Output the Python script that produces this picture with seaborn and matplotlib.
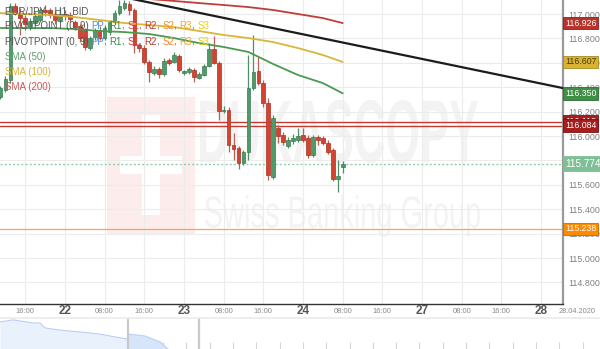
import numpy as np
import pandas as pd
import matplotlib
matplotlib.use("Agg")
import matplotlib.pyplot as plt
import seaborn as sns
from matplotlib.textpath import TextPath
from matplotlib.patches import PathPatch, Rectangle
from matplotlib.font_manager import FontProperties
from matplotlib.transforms import Affine2D, blended_transform_factory

# ---------------- data ----------------
# EUR/JPY H1 BID candles, 21.04.2020 11:00 ... 24.04.2020 08:00 (x = trading-hour index)
opens = [116.320, 116.377, 116.459, 117.066, 117.008, 116.967, 116.893, 116.926, 116.951, 117.033,
         117.033, 117.000, 116.951, 117.000, 116.992, 116.934, 116.902, 116.869, 116.721, 116.811,
         116.869, 116.803, 116.852, 116.934, 117.008, 117.049, 117.082, 117.033, 116.746, 116.721,
         116.607, 116.516, 116.549, 116.508, 116.623, 116.607, 116.656, 116.516, 116.525, 116.541,
         116.475, 116.500, 116.574, 116.713, 116.598, 116.205, 116.213, 115.926, 115.902, 115.779,
         115.869, 116.393, 116.533, 116.434, 116.270, 115.664, 116.066, 116.008, 115.918, 115.959,
         115.967, 116.008, 115.984, 115.844, 115.992, 115.984, 115.943, 115.885, 115.648, 115.746]
highs = [116.410, 116.492, 117.090, 117.090, 117.049, 116.992, 116.967, 117.016, 117.049, 117.074,
         117.049, 117.033, 117.049, 117.033, 117.016, 116.951, 116.918, 116.885, 116.820, 116.885,
         116.902, 116.910, 116.951, 117.033, 117.115, 117.115, 117.107, 117.049, 116.762, 116.746,
         116.623, 116.574, 116.566, 116.639, 116.639, 116.689, 116.672, 116.541, 116.566, 116.557,
         116.525, 116.590, 116.762, 116.820, 116.615, 116.246, 116.238, 116.025, 115.918, 115.885,
         116.664, 116.828, 116.648, 116.459, 116.311, 116.172, 116.090, 116.033, 115.992, 116.016,
         116.066, 116.066, 116.008, 116.008, 116.008, 116.000, 115.967, 115.902, 115.803, 115.795]
lows = [116.303, 116.361, 116.434, 116.992, 116.828, 116.869, 116.869, 116.910, 116.934, 116.984,
        116.967, 116.918, 116.934, 116.951, 116.934, 116.869, 116.770, 116.705, 116.705, 116.787,
        116.787, 116.787, 116.828, 116.918, 116.992, 117.033, 116.992, 116.680, 116.689, 116.590,
        116.443, 116.500, 116.475, 116.492, 116.582, 116.598, 116.525, 116.500, 116.508, 116.443,
        116.467, 116.492, 116.566, 116.590, 116.131, 116.189, 115.869, 115.803, 115.730, 115.762,
        115.803, 116.377, 116.418, 116.238, 115.639, 115.648, 115.943, 115.926, 115.902, 115.934,
        115.951, 115.951, 115.820, 115.828, 115.926, 115.926, 115.852, 115.631, 115.541, 115.697]
closes = [116.393, 116.467, 117.066, 117.008, 116.967, 116.918, 116.934, 116.984, 117.033, 117.016,
          116.992, 116.951, 117.000, 116.984, 116.959, 116.893, 116.803, 116.730, 116.803, 116.869,
          116.803, 116.885, 116.934, 117.008, 117.066, 117.090, 117.033, 116.746, 116.721, 116.607,
          116.525, 116.549, 116.508, 116.615, 116.598, 116.664, 116.541, 116.533, 116.549, 116.484,
          116.508, 116.574, 116.713, 116.598, 116.205, 116.213, 115.926, 115.893, 115.779, 115.869,
          116.393, 116.525, 116.434, 116.270, 115.680, 116.148, 116.000, 115.951, 115.967, 115.984,
          116.000, 115.967, 115.844, 115.992, 115.967, 115.943, 115.869, 115.648, 115.672, 115.774]

sma_hours = [0, 5, 10, 15, 20, 25, 30, 35, 40, 45, 50, 55, 60, 65, 69]
sma50 = [116.885, 116.885, 116.885, 116.877, 116.861, 116.852, 116.836, 116.803,
         116.762, 116.730, 116.689, 116.590, 116.500, 116.434, 116.350]
sma100 = [117.008, 117.000, 116.992, 116.975, 116.951, 116.926, 116.910, 116.893,
          116.861, 116.828, 116.803, 116.770, 116.721, 116.664, 116.607]
sma200_hours = [25, 30, 35, 40, 45, 50, 55, 60, 65, 69]
sma200 = [117.148, 117.123, 117.107, 117.090, 117.074, 117.057, 117.033, 117.000, 116.967, 116.926]

trend_hours = [24, 113.4]
trend_prices = [117.145, 116.393]

pivot_levels = [116.118, 116.084]
s_level = 115.238
current_price = 115.774

price_ticks = [114.8, 115.0, 115.2, 115.4, 115.6, 115.8, 116.0, 116.2, 116.4, 116.6, 116.8, 117.0]
time_tick_hours = [5, 21, 29, 45, 53, 69, 77, 93, 101]
time_tick_labels = ["16:00", "08:00", "16:00", "08:00", "16:00", "08:00", "16:00", "08:00", "16:00"]
day_tick_hours = [13, 37, 61, 85, 109]
day_tick_labels = ["22", "23", "24", "27", "28"]
end_date_label = "28.04.2020"

nav_x = [0, 13, 33, 40, 45, 60, 80, 100, 115, 128, 129, 145, 155, 160, 168]
nav_level = [0.87, 0.94, 0.84, 0.84, 0.68, 0.61, 0.55, 0.48, 0.39, 0.32, 0.48, 0.42, 0.29, 0.23, 0.0]
nav_window = [128, 199]

# ---------------- style ----------------
sns.set_theme(style="white")
plt.rcParams["font.family"] = ["Liberation Sans", "DejaVu Sans"]

W, H = 600, 349
fig = plt.figure(figsize=(6, 3.49), dpi=100)
fig.patch.set_facecolor("white")

# watermark layer
wm = fig.add_axes([0, 0, 1, 1])
wm.set_zorder(0)
wm.set_xlim(0, W)
wm.set_ylim(H, 0)
wm.axis("off")


def fit_text(axw, s, x0, x1, y0, y1, weight, color):
    tp = TextPath((0, 0), s, size=100, prop=FontProperties(family="Liberation Sans", weight=weight))
    bb = tp.get_extents()
    sx = (x1 - x0) / bb.width
    sy = (y1 - y0) / bb.height
    tr = Affine2D().translate(-bb.x0, -bb.y0).scale(sx, -sy).translate(x0, y1) + axw.transData
    axw.add_patch(PathPatch(tp, transform=tr, fc=color, ec="none"))


wm.add_patch(Rectangle((107, 97), 88, 138, fc="#fcecec", ec="none"))
wm.add_patch(Rectangle((142, 115), 18, 100, fc="white", ec="none"))
wm.add_patch(Rectangle((120, 156), 62, 18, fc="white", ec="none"))
fit_text(wm, "DUKASCOPY", 200, 478, 100, 163, "bold", "#f3f3f3")
fit_text(wm, "Swiss Banking Group", 205, 480, 195, 237, "normal", "#f3f3f3")

# navigator
nav = fig.add_axes([0, 0, 1, 31 / H])
nav.set_zorder(1)
nav.set_facecolor("none")
nav.set_xlim(0, W)
nav.set_ylim(0, 1)
nx = np.array(nav_x, dtype=float)
nl = np.array(nav_level)
nav.fill_between(nx, nl, 0, color="#e9f1fd", lw=0)
inwin = (nx >= nav_window[0])
nav.fill_between(nx, nl, 0, where=inwin, color="#d7e5fb", lw=0)
sns.lineplot(x=nx, y=nl, ax=nav, color="#b9cff4", lw=0.8, estimator=None, sort=False)
for v in nav_window:
    nav.axvline(v, color="#c9c9c9", lw=1.6)
nav.set_xticks(np.arange(23.3, W, 23.3))
nav.set_yticks([])
nav.tick_params(axis="x", direction="in", length=5, color="#d5d5d5", width=0.8,
                labelbottom=False, bottom=True)
for s in ["left", "right", "bottom"]:
    nav.spines[s].set_visible(False)
nav.spines["top"].set_color("#ececec")
nav.set_xlabel("")
nav.set_ylabel("")

# main price axes
ax = fig.add_axes([0, 45 / H, 563 / W, 304 / H])
ax.set_zorder(3)
ax.set_facecolor("none")
ax.set_xlim(-0.09, 113.42)
ax.set_ylim(114.623, 117.115)

df = pd.DataFrame({"hour": np.arange(len(opens)), "open": opens, "high": highs,
                   "low": lows, "close": closes})
up = df["close"] >= df["open"]
body_c = np.where(up, "#4f9a6b", "#d4432f")
edge_c = np.where(up, "#3b7a52", "#a83223")
wick_c = np.where(up, "#4f8f64", "#b86258")
ax.vlines(df["hour"], df["low"], df["high"], colors=wick_c, lw=0.9, zorder=3)
ax.bar(df["hour"], (df["close"] - df["open"]).abs().clip(lower=0.004),
       bottom=np.minimum(df["open"], df["close"]), width=0.74,
       color=body_c, edgecolor=edge_c, linewidth=0.5, zorder=4)

sns.lineplot(x=sma_hours, y=sma50, ax=ax, color="#4a9a4f", lw=1.3, zorder=5, estimator=None)
sns.lineplot(x=sma_hours, y=sma100, ax=ax, color="#dab536", lw=1.3, zorder=5, estimator=None)
sns.lineplot(x=sma200_hours, y=sma200, ax=ax, color="#bf3e3a", lw=1.3, zorder=5, estimator=None)
sns.lineplot(x=trend_hours, y=trend_prices, ax=ax, color="#1c1c1c", lw=1.6, zorder=5, estimator=None)

for v in pivot_levels:
    ax.axhline(v, color="#c23a32", lw=1.0, zorder=2)
ax.axhline(s_level, color="#f3a55a", lw=0.9, zorder=2)
ax.axhline(current_price, color="#94cca6", lw=1.0, ls=(0, (1.5, 1.5)), zorder=2)

# grid / ticks
ax.set_xticks(sorted(time_tick_hours + day_tick_hours))
ax.set_yticks(price_ticks)
ax.set_yticklabels([f"{v:.3f}" for v in price_ticks])
ax.grid(True, color="#ececec", lw=0.8)
ax.set_axisbelow(True)
ax.yaxis.tick_right()
ax.tick_params(axis="y", length=0, pad=4, labelsize=6.4, labelcolor="#808080")
ax.tick_params(axis="x", length=0, labelbottom=False)
ax.set_xlabel("")
ax.set_ylabel("")
ax.spines["top"].set_visible(False)
ax.spines["left"].set_visible(False)
ax.spines["right"].set_color("#9a9a9a")
ax.spines["right"].set_linewidth(1.6)
ax.spines["bottom"].set_color("#333333")
ax.spines["bottom"].set_linewidth(1.0)

xb = blended_transform_factory(ax.transData, ax.transAxes)
ylab = -7.5 / 304
for h, lab in zip(time_tick_hours, time_tick_labels):
    ax.text(h, ylab, lab, transform=xb, ha="center", va="center", fontsize=5.5,
            color="#8a8a8a", clip_on=False)
for h, lab in zip(day_tick_hours, day_tick_labels):
    ax.text(h, ylab, lab, transform=xb, ha="center", va="center", fontsize=8.5,
            fontweight="bold", color="#555555", clip_on=False)
ax.text(577 / 563, ylab, end_date_label, transform=ax.transAxes, ha="center", va="center",
        fontsize=5.3, color="#8a8a8a", clip_on=False)

# right-hand value boxes
yb = blended_transform_factory(ax.transAxes, ax.transData)
boxes = [
    (sma200[-1], "#b8332a", "#8e2019", "white", 6.3),
    (sma100[-1], "#d8b233", "#a88a1d", "#4b3d05", 6.3),
    (sma50[-1], "#3f8f46", "#2b6c31", "white", 6.3),
    (pivot_levels[0], "#a51d1d", "#7a1212", "white", 6.3),
    (pivot_levels[1], "#a51d1d", "#7a1212", "white", 6.3),
    (s_level, "#ff8a00", "#c86a00", "white", 6.3),
    (current_price, "#7fbf96", "#7fbf96", "white", 7.2),
]
for val, fc, ec, tc, fs in boxes:
    ax.text(1.0 + 2 / 563, val, f"{val:.3f}", transform=yb, ha="left", va="center",
            fontsize=fs, color=tc, clip_on=False, zorder=12,
            bbox=dict(boxstyle="square,pad=0.22", fc=fc, ec=ec, lw=0.6))

# legend / header texts
def rainbow(x_px, y_px, pieces, fs=7.0):
    t = ax.text(x_px / W, 1 - y_px / H, pieces[0][0], color=pieces[0][1], fontsize=fs,
                transform=fig.transFigure, ha="left", va="center", zorder=20, clip_on=False)
    for s, c in pieces[1:]:
        t = ax.annotate(s, xy=(1, 0), xycoords=t, ha="left", va="bottom", color=c,
                        fontsize=fs, zorder=20, annotation_clip=False)


g = "#555555"
piv = [("PIVOTPOINT (0, 9) ", g), ("PP", "#4a8fe0"), (", ", g), ("R1", "#3d8b40"), (", ", g),
       ("S1", "#d9413a"), (", ", g), ("R2", "#c0392b"), (", ", g), ("S2", "#f08a24"), (", ", g),
       ("R3", "#f5a623"), (", ", g), ("S3", "#ecd000")]
rainbow(5, 11, [("EUR/JPY - H1, BID", g)])
rainbow(5, 26, piv)
rainbow(5, 42, piv)
rainbow(5, 57, [("SMA (50)", "#5f9f6f")])
rainbow(5, 72, [("SMA (100)", "#d6b43a")])
rainbow(5, 87, [("SMA (200)", "#c55a55")])

fig.savefig("out.png", dpi=100)
